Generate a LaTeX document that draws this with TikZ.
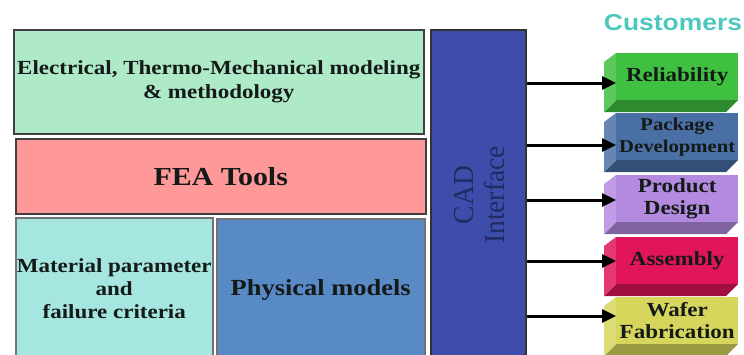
\documentclass[tikz,border=0pt]{standalone}
\usepackage{fontspec}
\setmainfont{Liberation Serif}[FakeStretch=1.15]
\setsansfont{Liberation Sans}[FakeStretch=1.15]
\newfontfamily\cadfont{Liberation Serif}[FakeStretch=0.95]
\usepackage{tikz}
\usetikzlibrary{arrows.meta}
\usepackage{xcolor}

\definecolor{elecgreen}{HTML}{AEEAC8}
\definecolor{feared}{HTML}{FF9999}
\definecolor{matcyan}{HTML}{A6E6E0}
\definecolor{physblue}{HTML}{588AC6}
\definecolor{cadblue}{HTML}{3F4DAA}
\definecolor{cadtext}{HTML}{222A62}
\definecolor{custteal}{HTML}{4DC8C0}
\definecolor{relgreen}{HTML}{40C040}
\definecolor{pkgblue}{HTML}{4A6FA5}
\definecolor{prodlilac}{HTML}{B48AE0}
\definecolor{asmred}{HTML}{E0155A}
\definecolor{waferyel}{HTML}{D6D65C}
\definecolor{inkdark}{HTML}{141A18}

\begin{document}
\begin{tikzpicture}[x=1pt,y=-1pt,
    box/.style={draw=black!75, line width=1.5pt, anchor=north west, inner sep=0pt,
      align=center, text=inkdark},
    front/.style={anchor=north west, inner sep=0pt, align=center, text=inkdark,
      minimum width=122pt, minimum height=47pt},
    arr/.style={-{Triangle[length=14pt,width=13pt]}, line width=3pt}]

    \useasboundingbox (0,0) rectangle (744,354);
    \clip (0,0) rectangle (744,354);

    % Modeling blocks
    \node[box, fill=elecgreen, minimum width=410pt, minimum height=104pt,
      font=\fontsize{20}{24}\selectfont\bfseries] (elec) at (13,29)
      {Electrical, Thermo-Mechanical modeling\\ \& methodology};
    \node[box, fill=feared, minimum width=410pt, minimum height=75pt,
      font=\fontsize{26}{30}\selectfont\bfseries] (fea) at (15,138) {FEA Tools};
    \node[box, draw=black!55, fill=matcyan, minimum width=197pt, minimum height=142pt,
      font=\fontsize{20}{23}\selectfont\bfseries] (mat) at (15,217)
      {Material parameter\\ and\\ failure criteria};
    \node[box, draw=black!55, fill=physblue, minimum width=208pt, minimum height=142pt,
      font=\fontsize{23}{27}\selectfont\bfseries] (phys) at (216,218) {Physical models};

    % CAD interface
    \node[box, draw=black!80, fill=cadblue, minimum width=95pt, minimum height=340pt] (cad) at (430,29) {};
    \node[rotate=90, align=center, text=cadtext, font=\cadfont\fontsize{29}{31}\selectfont]
      (cadlabel) at (480,195) {CAD\\ Interface};

    % Customers
    \node[anchor=base, text=custteal, font=\sffamily\bfseries\fontsize{23}{26}\selectfont]
      (cust) at (673,30) {Customers};

    \foreach \n/\t/\y/\c/\f/\txt in {rel/53/83/relgreen/20/Reliability,
        pkg/113/145/pkgblue/18/{Package\\ Development},
        prod/175/200/prodlilac/20/{Product\\ Design},
        asm/237/261/asmred/20/Assembly,
        wafer/297/316/waferyel/20/{Wafer\\ Fabrication}} {
      \fill[\c!72!black] (604,\t+59) -- (616,\t+47) -- (738,\t+47) -- (726,\t+59) -- cycle;
      \fill[\c!85!white] (604,\t+9) -- (616,\t) -- (616,\t+47) -- (604,\t+59) -- cycle;
      \node[front, fill=\c, font=\fontsize{\f}{22}\selectfont\bfseries] (\n) at (616,\t) {\txt};
      \draw[arr] (cad.east |- 0,\y) -- (\n.west |- 0,\y);
    }
\end{tikzpicture}
\end{document}
